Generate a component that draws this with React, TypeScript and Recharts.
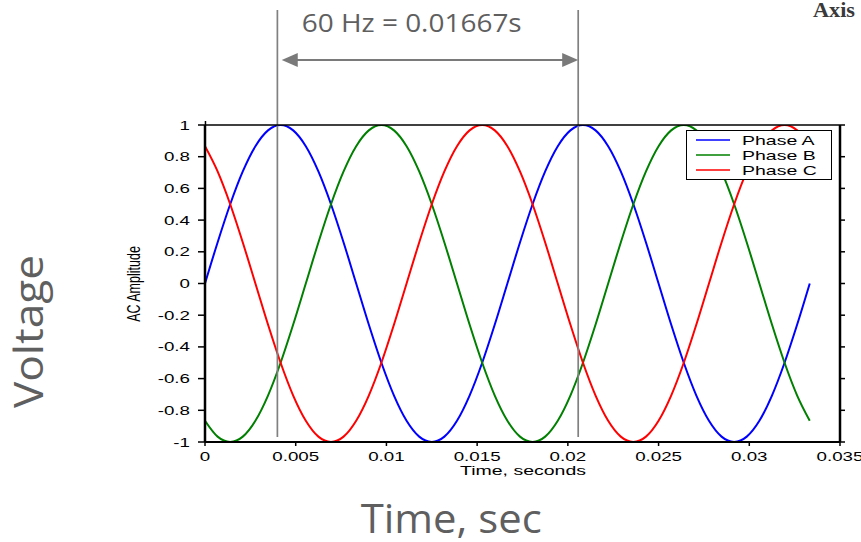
import React from "react";
import { LineChart, Line, XAxis, YAxis, ReferenceLine, Legend } from "recharts";

// time samples (s)
const time = [
  0, 0.000694, 0.001389, 0.002083, 0.002778, 0.003472, 0.004167, 0.004861, 0.005556, 0.00625,
  0.006944, 0.007639, 0.008333, 0.009028, 0.009722, 0.010417, 0.011111, 0.011806, 0.0125, 0.013194,
  0.013889, 0.014583, 0.015278, 0.015972, 0.016667, 0.017361, 0.018056, 0.01875, 0.019444, 0.020139,
  0.020833, 0.021528, 0.022222, 0.022917, 0.023611, 0.024306, 0.025, 0.025694, 0.026389, 0.027083,
  0.027778, 0.028472, 0.029167, 0.029861, 0.030556, 0.03125, 0.031944, 0.032639, 0.033333,
];
const phaseA = [
  0, 0.259, 0.5, 0.707, 0.866, 0.966, 1, 0.966, 0.866, 0.707, 0.5, 0.259, 0, -0.259, -0.5, -0.707,
  -0.866, -0.966, -1, -0.966, -0.866, -0.707, -0.5, -0.259, 0, 0.259, 0.5, 0.707, 0.866, 0.966, 1,
  0.966, 0.866, 0.707, 0.5, 0.259, 0, -0.259, -0.5, -0.707, -0.866, -0.966, -1, -0.966, -0.866,
  -0.707, -0.5, -0.259, 0,
];
const phaseB = [
  -0.866, -0.966, -1, -0.966, -0.866, -0.707, -0.5, -0.259, 0, 0.259, 0.5, 0.707, 0.866, 0.966, 1,
  0.966, 0.866, 0.707, 0.5, 0.259, 0, -0.259, -0.5, -0.707, -0.866, -0.966, -1, -0.966, -0.866,
  -0.707, -0.5, -0.259, 0, 0.259, 0.5, 0.707, 0.866, 0.966, 1, 0.966, 0.866, 0.707, 0.5, 0.259, 0,
  -0.259, -0.5, -0.707, -0.866,
];
const phaseC = [
  0.866, 0.707, 0.5, 0.259, 0, -0.259, -0.5, -0.707, -0.866, -0.966, -1, -0.966, -0.866, -0.707,
  -0.5, -0.259, 0, 0.259, 0.5, 0.707, 0.866, 0.966, 1, 0.966, 0.866, 0.707, 0.5, 0.259, 0, -0.259,
  -0.5, -0.707, -0.866, -0.966, -1, -0.966, -0.866, -0.707, -0.5, -0.259, 0, 0.259, 0.5, 0.707,
  0.866, 0.966, 1, 0.966, 0.866,
];
const seriesNames = ["Phase A", "Phase B", "Phase C"];
const seriesColors = ["#0000ff", "#008000", "#ff0000"];
const xTicks = [0, 0.005, 0.01, 0.015, 0.02, 0.025, 0.03, 0.035];
const yTicks = [-1, -0.8, -0.6, -0.4, -0.2, 0, 0.2, 0.4, 0.6, 0.8, 1];
const markerTimes = [0.00399, 0.02057];
const arrowFrom = 0.00423;
const arrowTo = 0.02057;
const periodLabel = "60 Hz = 0.01667s";

const data = time.map((t, i) => ({ t, a: phaseA[i], b: phaseB[i], c: phaseC[i] }));

const SX = 1.5;
const INNER_FONT = "'Liberation Sans', Arial, sans-serif";
const OUTER_FONT = "'Open Sans', 'Noto Sans', sans-serif";

const XTick = (props: any) => {
  const { x, y, payload } = props;
  return (
    <text
      transform={`translate(${x},${y}) scale(${SX},1)`}
      textAnchor="middle"
      dy="0.72em"
      fontSize={12.5}
      fontFamily={INNER_FONT}
      fill="#000"
    >
      {String(payload.value)}
    </text>
  );
};

const YTick = (props: any) => {
  const { x, y, payload } = props;
  return (
    <text
      transform={`translate(${x},${y}) scale(${SX},1)`}
      textAnchor="end"
      dy="0.36em"
      fontSize={12.5}
      fontFamily={INNER_FONT}
      fill="#000"
    >
      {String(payload.value)}
    </text>
  );
};

const EmptyTick = () => <g />;

const ArrowShape = (props: any) => {
  const { x1, y1, x2, y2 } = props;
  const hl = 16;
  const hw = 7;
  const col = "#7a7a7a";
  return (
    <g>
      <line x1={x1 + hl - 2} y1={y1} x2={x2 - hl + 2} y2={y2} stroke={col} strokeWidth={2} />
      <polygon points={`${x1},${y1} ${x1 + hl},${y1 - hw} ${x1 + hl},${y1 + hw}`} fill={col} />
      <polygon points={`${x2},${y2} ${x2 - hl},${y2 - hw} ${x2 - hl},${y2 + hw}`} fill={col} />
    </g>
  );
};

const LegendBox = (props: any) => {
  const payload = props.payload && props.payload.length ? props.payload : seriesNames.map((n, i) => ({ value: n, color: seriesColors[i] }));
  return (
    <svg width={146} height={50} style={{ display: "block" }}>
      <rect x={0.5} y={0.5} width={145} height={49} fill="#fff" stroke="#000" strokeWidth={1} />
      {payload.map((p: any, i: number) => {
        const cy = 10 + i * 15;
        return (
          <g key={p.value}>
            <line x1={10} x2={44} y1={cy} y2={cy} stroke={p.color} strokeWidth={1.5} />
            <text
              transform={`translate(56,${cy}) scale(${SX},1)`}
              dy="0.36em"
              fontSize={13}
              fontFamily={INNER_FONT}
              fill="#000"
            >
              {p.value}
            </text>
          </g>
        );
      })}
    </svg>
  );
};

export default function App() {
  return (
    <div style={{ position: "absolute", left: 0, top: 0, width: 861, height: 542, background: "#fff" }}>
      <LineChart width={861} height={542} data={data} margin={{ top: 95, right: 0, bottom: 40, left: 0 }}>
        <XAxis
          xAxisId="bottom"
          dataKey="t"
          type="number"
          domain={[0, 0.035]}
          ticks={xTicks}
          orientation="bottom"
          height={60}
          tickSize={4}
          tickMargin={6}
          tick={XTick}
          axisLine={{ stroke: "#000", strokeWidth: 2 }}
          tickLine={{ stroke: "#000", strokeWidth: 1.5 }}
          allowDataOverflow
        />
        <XAxis
          xAxisId="top"
          type="number"
          domain={[0, 0.035]}
          ticks={xTicks}
          orientation="top"
          height={30}
          tickSize={4}
          tick={EmptyTick}
          axisLine={{ stroke: "#000", strokeWidth: 1.5 }}
          tickLine={{ stroke: "#000", strokeWidth: 1.5 }}
          allowDataOverflow
        />
        <YAxis
          yAxisId="left"
          type="number"
          domain={[-1, 1]}
          ticks={yTicks}
          width={205}
          tickSize={7}
          tickMargin={8}
          tick={YTick}
          axisLine={{ stroke: "#000", strokeWidth: 2.5 }}
          tickLine={{ stroke: "#000", strokeWidth: 1.5 }}
          allowDataOverflow
        />
        <YAxis
          yAxisId="right"
          orientation="right"
          type="number"
          domain={[-1, 1]}
          ticks={yTicks}
          width={21}
          tickSize={5}
          tick={EmptyTick}
          axisLine={{ stroke: "#000", strokeWidth: 2.5 }}
          tickLine={{ stroke: "#000", strokeWidth: 1.5 }}
          allowDataOverflow
        />
        <Line xAxisId="bottom" yAxisId="left" type="monotone" dataKey="a" name={seriesNames[0]} stroke={seriesColors[0]} strokeWidth={2} dot={false} activeDot={false} legendType="line" isAnimationActive={false} />
        <Line xAxisId="bottom" yAxisId="left" type="monotone" dataKey="b" name={seriesNames[1]} stroke={seriesColors[1]} strokeWidth={2} dot={false} activeDot={false} legendType="line" isAnimationActive={false} />
        <Line xAxisId="bottom" yAxisId="left" type="monotone" dataKey="c" name={seriesNames[2]} stroke={seriesColors[2]} strokeWidth={2} dot={false} activeDot={false} legendType="line" isAnimationActive={false} />
        {markerTimes.map((m) => (
          <ReferenceLine
            key={m}
            xAxisId="bottom"
            yAxisId="left"
            segment={[{ x: m, y: -0.968 }, { x: m, y: 1.7256 }]}
            ifOverflow="visible"
            stroke="#808080"
            strokeWidth={1.7}
          />
        ))}
        <ReferenceLine
          xAxisId="bottom"
          yAxisId="left"
          segment={[{ x: arrowFrom, y: 1.41 }, { x: arrowTo, y: 1.41 }]}
          ifOverflow="visible"
          shape={ArrowShape}
        />
        <Legend
          layout="vertical"
          align="center"
          verticalAlign="middle"
          content={LegendBox}
          wrapperStyle={{ left: 686, top: 130, width: 146, height: 50 }}
        />
      </LineChart>
      <svg
        width={861}
        height={542}
        style={{ position: "absolute", left: 0, top: 0, pointerEvents: "none" }}
      >
        <text x={301.7} y={31.7} fontSize={26} fontFamily={OUTER_FONT} fill="#5f5f5f" textLength={220} lengthAdjust="spacingAndGlyphs">
          {periodLabel}
        </text>
        <text x={813} y={17} fontSize={21} fontFamily="'Liberation Serif', 'Times New Roman', serif" fontWeight="bold" fill="#3a3a3a" textLength={42} lengthAdjust="spacingAndGlyphs">
          Axis
        </text>
        <text transform="translate(43,331.5) rotate(-90)" textAnchor="middle" fontSize={40} fontFamily={OUTER_FONT} fill="#5f5f5f" textLength={153} lengthAdjust="spacingAndGlyphs">
          Voltage
        </text>
        <text x={360.7} y={533.3} fontSize={40} fontFamily={OUTER_FONT} fill="#5f5f5f" textLength={181} lengthAdjust="spacingAndGlyphs">
          Time, sec
        </text>
        <text transform={`translate(523,475) scale(${SX},1)`} textAnchor="middle" fontSize={13} fontFamily={INNER_FONT} fill="#000">
          Time, seconds
        </text>
        <text transform={`translate(140,284) scale(${SX},1) rotate(-90)`} textAnchor="middle" fontSize={12.5} fontFamily={INNER_FONT} fill="#000">
          AC Amplitude
        </text>
      </svg>
    </div>
  );
}
